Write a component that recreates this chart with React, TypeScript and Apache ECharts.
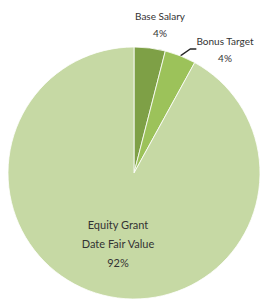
import React, { useEffect, useRef } from "react";
import * as echarts from "echarts";

const categories = ["Base Salary", "Bonus Target", "Equity Grant\nDate Fair Value"];
const values = [4, 4, 92];
const colors = ["#7ea046", "#9cc25a", "#c6d9a4"];

export default function App() {
  const ref = useRef<HTMLDivElement>(null);
  useEffect(() => {
    if (!ref.current) return;
    const chart = echarts.init(ref.current, null, { renderer: "svg" });
    const labelPos = [
      { x: 160, y: 24 },
      { x: 225, y: 49 },
      { x: 118, y: 243 },
    ];
    chart.setOption({
      animation: false,
      backgroundColor: "#ffffff",
      series: [
        {
          type: "pie",
          center: [134, 173],
          radius: [0, 126],
          startAngle: 90,
          clockwise: true,
          avoidLabelOverlap: false,
          itemStyle: { borderColor: "#ffffff", borderWidth: 0.8 },
          label: {
            show: true,
            position: "outside",
            fontFamily: "Lato, 'Open Sans', sans-serif",
            fontSize: 10,
            color: "#333333",
            lineHeight: 17,
            align: "center",
            formatter: (p: any) => `${p.name}\n${Math.round(p.percent)}%`,
          },
          labelLine: { show: true, length: 4, length2: 6, smooth: false, lineStyle: { color: "#262626", width: 1.3 } },
          labelLayout: (params: any) => {
            const pos = labelPos[params.dataIndex];
            return { x: pos.x, y: pos.y, align: "center", verticalAlign: "middle" };
          },
          data: categories.map((name, i) => ({
            name,
            value: values[i],
            itemStyle: { color: colors[i] },
            label: i === 2 ? { fontSize: 11, lineHeight: 19 } : {},
            labelLine: i === 1 ? {} : { show: false },
          })),
        },
      ],
    });
    return () => chart.dispose();
  }, []);
  return <div ref={ref} style={{ width: 269, height: 304, position: "absolute", left: 0, top: 0 }} />;
}
